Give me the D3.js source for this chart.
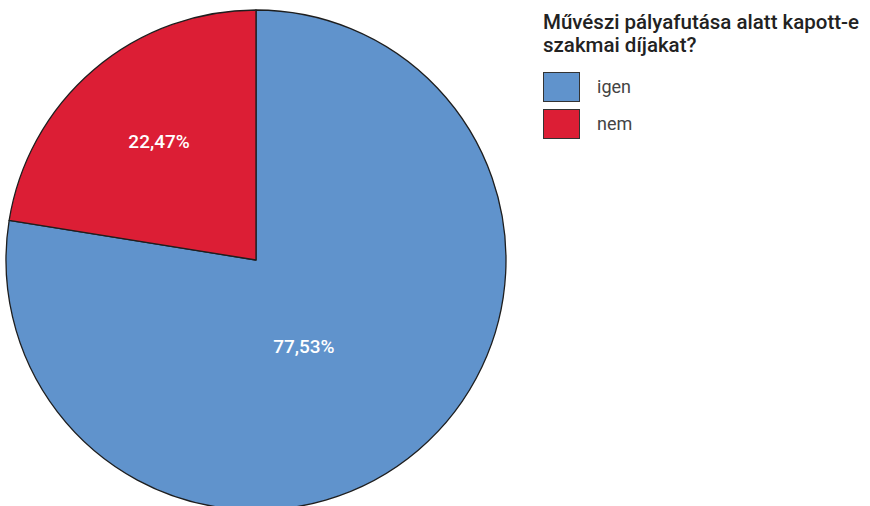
<!DOCTYPE html>
<meta charset="utf-8">
<head>
  <style>
    body { margin: 0; background: #fff; }
    svg { display: block; font-family: Roboto, 'Open Sans', sans-serif; }
  </style>
</head>
<body>
<svg id="chart" width="870" height="506"></svg>
<script src="https://d3js.org/d3.v7.min.js"></script>
<script>
// chart data
var categories = ["igen", "nem"];
var values = [77.53, 22.47];
var labels = ["77,53%", "22,47%"];
var colors = ["#6093cc", "#dc1e35"];
var title = ["Művészi pályafutása alatt kapott-e", "szakmai díjakat?"];

var width = 870, height = 506;
var cx = 256, cy = 260, radius = 250;

var svg = d3.select("#chart");

var pie = d3.pie().sort(null).value(function(d) { return d; });
var arcs = pie(values);

var arc = d3.arc().innerRadius(0).outerRadius(radius);

var g = svg.append("g")
    .attr("transform", "translate(" + cx + "," + cy + ")");

g.selectAll("path.slice")
    .data(arcs)
  .enter().append("path")
    .attr("class", "slice")
    .attr("d", arc)
    .style("fill", function(d, i) { return colors[i]; })
    .style("stroke", "#1e1e1e")
    .style("stroke-width", 1.3)
    .style("stroke-linejoin", "round");

// label placement: radius factor + small nudge per slice
var labelK = [0.4, 0.61];
var labelNudge = [[-17, 10], [2, -3]];
g.selectAll("text.lbl")
    .data(arcs)
  .enter().append("text")
    .attr("class", "lbl")
    .attr("transform", function(d, i) {
      var a = (d.startAngle + d.endAngle) / 2;
      var r = radius * labelK[i];
      var x = Math.sin(a) * r + labelNudge[i][0],
          y = -Math.cos(a) * r + labelNudge[i][1];
      return "translate(" + x + "," + y + ")";
    })
    .attr("text-anchor", "middle")
    .attr("dy", "0.35em")
    .style("fill", "#fff")
    .style("font-size", "19px")
    .style("font-weight", 500)
    .text(function(d, i) { return labels[i]; });

// legend
var legend = svg.append("g").attr("transform", "translate(543,0)");

legend.selectAll("text.title")
    .data(title)
  .enter().append("text")
    .attr("class", "title")
    .attr("x", 0)
    .attr("y", function(d, i) { return 29 + i * 23; })
    .style("font-size", "20.5px")
    .style("font-weight", 500)
    .style("fill", "#222")
    .text(function(d) { return d; });

var item = legend.selectAll("g.item")
    .data(categories)
  .enter().append("g")
    .attr("class", "item")
    .attr("transform", function(d, i) { return "translate(0," + (72 + i * 37) + ")"; });

item.append("rect")
    .attr("x", 0.5)
    .attr("y", 0.5)
    .attr("width", 36)
    .attr("height", 29)
    .style("fill", function(d, i) { return colors[i]; })
    .style("stroke", "#333")
    .style("stroke-width", 1);

item.append("text")
    .attr("x", 54)
    .attr("y", 15)
    .attr("dy", "0.35em")
    .style("font-size", "18px")
    .style("fill", "#444")
    .text(function(d) { return d; });
</script>
</body>
